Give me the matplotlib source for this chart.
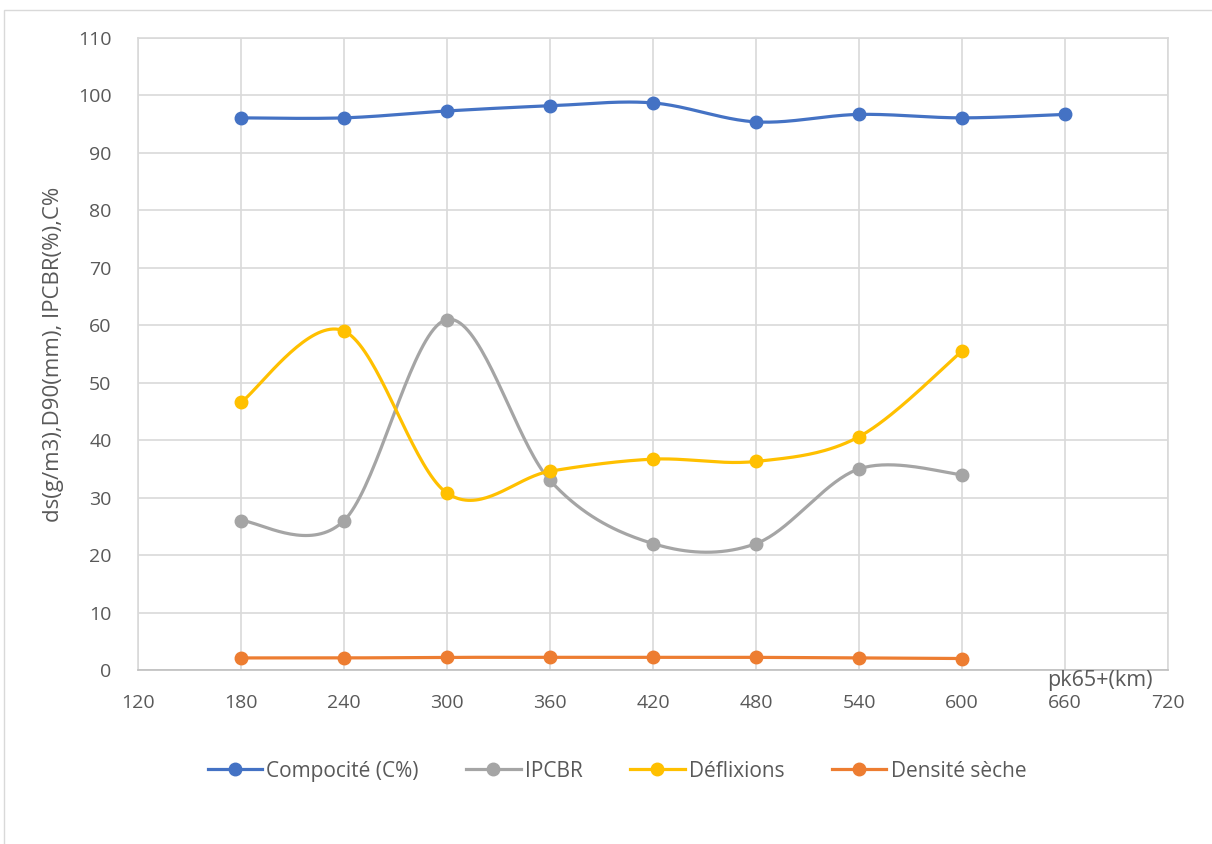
import numpy as np
import matplotlib
matplotlib.use("Agg")
import matplotlib.pyplot as plt
from matplotlib.patches import Rectangle

plt.rcParams['font.family'] = ['Open Sans', 'DejaVu Sans']

# pk positions (m) and the measured series
pk = [180, 240, 300, 360, 420, 480, 540, 600, 660]
compocite = [96.1, 96.1, 97.3, 98.2, 98.7, 95.4, 96.7, 96.1, 96.7]
ipcbr = [26, 26, 61, 33, 22, 22, 35, 34]
deflexions = [46.6, 59.0, 30.8, 34.6, 36.7, 36.3, 40.6, 55.5]
densite = [2.1, 2.1, 2.2, 2.2, 2.2, 2.2, 2.1, 2.0]

series = [
    ("Compocité (C%)", compocite, "#4472C4"),
    ("IPCBR", ipcbr, "#A5A5A5"),
    ("Déflixions", deflexions, "#FFC000"),
    ("Densité sèche", densite, "#ED7D31"),
]


def smooth(xs, ys, n=40):
    # cubic bezier through the points, control points from neighbours (1/6)
    xs = np.asarray(xs, float)
    ys = np.asarray(ys, float)
    px = np.concatenate([[xs[0]], xs, [xs[-1]]])
    py = np.concatenate([[ys[0]], ys, [ys[-1]]])
    t = np.linspace(0, 1, n)
    out_x, out_y = [], []
    for i in range(1, len(px) - 2):
        p0 = np.array([px[i], py[i]])
        p3 = np.array([px[i + 1], py[i + 1]])
        c1 = p0 + (np.array([px[i + 1], py[i + 1]]) - np.array([px[i - 1], py[i - 1]])) / 6
        c2 = p3 - (np.array([px[i + 2], py[i + 2]]) - np.array([px[i], py[i]])) / 6
        b = ((1 - t) ** 3)[:, None] * p0 + (3 * (1 - t) ** 2 * t)[:, None] * c1 \
            + (3 * (1 - t) * t ** 2)[:, None] * c2 + (t ** 3)[:, None] * p3
        out_x.append(b[:, 0])
        out_y.append(b[:, 1])
    return np.concatenate(out_x), np.concatenate(out_y)


fig = plt.figure(figsize=(12.12, 8.44), dpi=100)
ax = fig.add_axes([138 / 1212, 1 - 670 / 844, 1030 / 1212, 632 / 844])

# outer chart border
fig.patches.append(Rectangle((4 / 1212, -0.1), 1.2, 1 - 10 / 844 + 0.1,
                             transform=fig.transFigure, fill=False,
                             edgecolor="#D9D9D9", linewidth=1))

for name, vals, col in series:
    x = pk[:len(vals)]
    sx, sy = smooth(x, vals)
    ax.plot(sx, sy, color=col, linewidth=2.3, solid_capstyle="round", zorder=3)
    ax.plot(x, vals, "o", color=col, markersize=9, zorder=4)
    ax.plot([], [], "-o", color=col, linewidth=2.3, markersize=9, label=name)

ax.set_xlim(120, 720)
ax.set_ylim(0, 110)
ax.set_xticks(range(120, 721, 60))
ax.set_yticks(range(0, 111, 10))
ax.grid(True, color="#D9D9D9", linewidth=1.2, zorder=0)
ax.set_axisbelow(True)
ax.tick_params(length=0, labelsize=14, colors="#595959")
ax.tick_params(axis="x", pad=17)
ax.tick_params(axis="y", pad=19)
for side, sp in ax.spines.items():
    sp.set_color("#D9D9D9")
    sp.set_linewidth(1.2)
ax.spines["bottom"].set_color("#BFBFBF")

ax.set_ylabel("ds(g/m3),D90(mm), IPCBR(%),C%", fontsize=16, color="#595959",
              labelpad=10)
ax.text(0.934, -0.016, "pk65+(km)", transform=ax.transAxes, ha="center",
        va="center", fontsize=15.5, color="#595959")

ax.legend(loc="center", bbox_to_anchor=(0.465, -0.16), ncol=4, frameon=False,
          fontsize=15, labelcolor="#595959", handlelength=2.6,
          handletextpad=0.2, columnspacing=2.3)

fig.savefig("out.png", dpi=100)
